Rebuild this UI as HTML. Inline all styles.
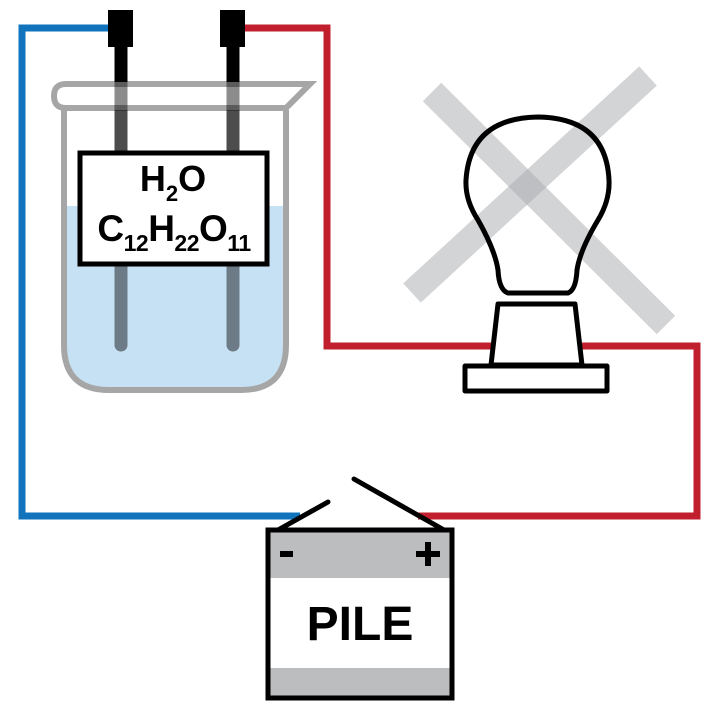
<!DOCTYPE html>
<html><head><meta charset="utf-8"><style>
html,body{margin:0;padding:0;background:#fff;}
svg{display:block;font-family:"Liberation Sans","DejaVu Sans",sans-serif;}
</style></head><body>
<svg width="720" height="720" viewBox="0 0 720 720">
  <polyline points="110,28 22,28 22,516 300,516" fill="none" stroke="#1273bd" stroke-width="7"/>
  <polyline points="244,28 327,28 327,346 697,346 697,516 418,516" fill="none" stroke="#c11f2d" stroke-width="7"/>

  <g>
    <path d="M66,206 L284,206 L284,345 Q284,388 241,388 L109,388 Q66,388 66,345 Z" fill="#c6e1f4"/>
    <path d="M64,110 L64,345 Q64,390 109,390 L241,390 Q286,390 286,345 L286,110" fill="none" stroke="#a6a6a6" stroke-width="6"/>
    <path d="M66,84 L310,84 L286,108 L66,108 Q54,108 54,96 Q54,84 66,84 Z" fill="none" stroke="#a6a6a6" stroke-width="6"/>
  </g>
  <g>
    <line x1="121" y1="40" x2="121" y2="345" stroke="#000" stroke-opacity="0.45" stroke-width="13" stroke-linecap="round"/>
    <line x1="233" y1="40" x2="233" y2="345" stroke="#000" stroke-opacity="0.45" stroke-width="13" stroke-linecap="round"/>
    <line x1="121" y1="40" x2="121" y2="82" stroke="#000" stroke-width="13"/>
    <line x1="233" y1="40" x2="233" y2="82" stroke="#000" stroke-width="13"/>
    <line x1="121" y1="110" x2="121" y2="152" stroke="#000" stroke-opacity="0.45" stroke-width="13"/>
    <line x1="233" y1="110" x2="233" y2="152" stroke="#000" stroke-opacity="0.45" stroke-width="13"/>
    <rect x="108" y="10" width="25" height="37" fill="#000"/>
    <rect x="220" y="10" width="25" height="37" fill="#000"/>
  </g>
  <g>
    <rect x="80" y="153" width="187" height="111" fill="#fff" stroke="#000" stroke-width="5"/>
    <text x="173" y="191" text-anchor="middle" font-size="36" font-weight="bold">H<tspan font-size="22" dy="10">2</tspan><tspan dy="-10">O</tspan></text>
    <text x="174" y="241" text-anchor="middle" font-size="37" font-weight="bold" letter-spacing="-0.5">C<tspan font-size="23" dy="10">12</tspan><tspan dy="-10">H</tspan><tspan font-size="23" dy="10">22</tspan><tspan dy="-10">O</tspan><tspan font-size="23" dy="10">11</tspan></text>
  </g>

  <g stroke="#a8aaad" stroke-opacity="0.5" stroke-width="26">
    <line x1="432" y1="92" x2="666" y2="325"/>
    <line x1="648" y1="76" x2="412" y2="293"/>
  </g>
  <g fill="#fff" fill-opacity="0" stroke="#000" stroke-width="5" stroke-linejoin="round">
    <path d="M508,293 L568,293 Q576,290 577,270 Q580,250 598,220 Q610,200 609,180 Q606,118 538,117 Q470,118 466,180 Q465,200 478,220 Q495,250 498,270 Q499,290 508,293 Z"/>
    <path d="M498,304 L575,304 L582,365 L491,365 Z" fill="#fff" fill-opacity="1"/>
    <rect x="465" y="366" width="142" height="25" fill="#fff" fill-opacity="1"/>
  </g>

  <g stroke="#000" stroke-width="5" stroke-linecap="round">
    <line x1="278" y1="530" x2="328" y2="502"/>
    <line x1="354" y1="479" x2="444" y2="530"/>
  </g>
  <g>
    <rect x="268" y="530" width="184" height="168" fill="#fff"/>
    <rect x="268" y="530" width="184" height="48" fill="#bcbdbf"/>
    <rect x="268" y="668" width="184" height="30" fill="#bcbdbf"/>
    <rect x="268" y="530" width="184" height="168" fill="none" stroke="#000" stroke-width="5"/>
    <rect x="280" y="551" width="13" height="6" fill="#000"/>
    <g fill="#000">
      <rect x="416" y="551" width="24" height="6"/>
      <rect x="425" y="542" width="6" height="24"/>
    </g>
    <text x="360" y="640" text-anchor="middle" font-size="48" font-weight="bold">PILE</text>
  </g>
</svg>
</body></html>
